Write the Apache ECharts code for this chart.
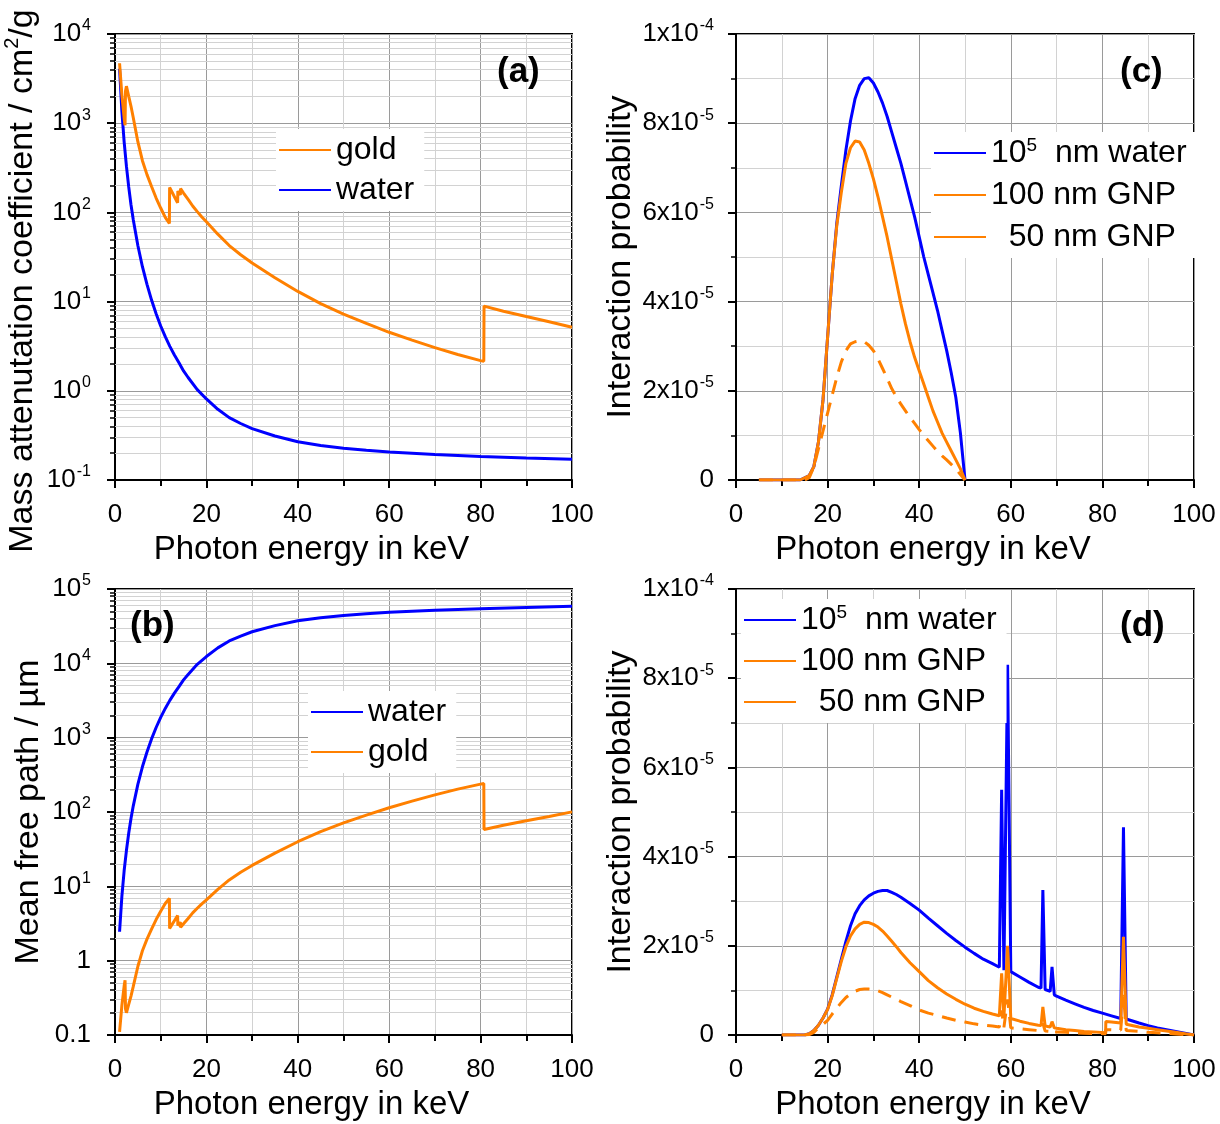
<!DOCTYPE html>
<html>
<head>
<meta charset="utf-8">
<script src="https://cdn.jsdelivr.net/npm/echarts@6/dist/echarts.min.js"></script>
<style>
html,body{margin:0;padding:0;background:#fff;}
#chart{width:1220px;height:1124px;}
</style>
</head>
<body>
<div id="chart"></div>
<script>
// ---------------- DATA ----------------
// Panel (a) & (b): photon energy in keV
const energyWater = [1, 1.5, 2, 2.5, 3, 3.5, 4, 5, 6, 7, 8, 9, 10, 11, 12, 13, 14, 15, 16, 18, 20, 22.5, 25, 27.5, 30, 35, 40, 45, 50, 55, 60, 70, 80, 90, 100];
const muWater = [4078, 1376, 617, 330, 193, 122, 82.8, 42.6, 24.6, 15.6, 10.4, 7.3, 5.33, 4.04, 3.15, 2.52, 2.06, 1.67, 1.41, 1.03, 0.81, 0.62, 0.50, 0.43, 0.376, 0.311, 0.268, 0.243, 0.227, 0.215, 0.206, 0.193, 0.184, 0.177, 0.171];
const mfpWater = [2.45, 7.27, 16.2, 30.3, 51.8, 82, 121, 235, 406, 641, 962, 1370, 1876, 2475, 3175, 3968, 4854, 5988, 7092, 9709, 12346, 16129, 20000, 23256, 26596, 32154, 37313, 41152, 44053, 46512, 48544, 51813, 54348, 56497, 58480];

const energyGold = [1, 1.5, 2, 2.2, 2.3, 2.5, 3, 3.5, 4, 5, 6, 7, 8, 9, 10, 11, 11.9, 11.95, 12.5, 13, 13.7, 13.75, 14.3, 14.35, 15, 16, 17, 18, 19, 20, 22.5, 25, 27.5, 30, 35, 40, 45, 50, 55, 60, 65, 70, 75, 80, 80.7, 80.75, 85, 90, 95, 100];
const muGold = [4700, 2089, 1137, 950, 2300, 2600, 2000, 1550, 1150, 620, 380, 265, 195, 145, 112, 88, 75, 190, 168, 150, 128, 174, 157, 185, 165, 140, 118, 102, 89, 78.6, 57, 42.5, 33.5, 27.1, 18.5, 13.0, 9.5, 7.25, 5.7, 4.53, 3.7, 3.05, 2.55, 2.18, 2.14, 8.9, 7.8, 6.8, 5.95, 5.16];
const mfpGold = [0.110, 0.248, 0.455, 0.545, 0.225, 0.199, 0.259, 0.334, 0.450, 0.835, 1.36, 1.95, 2.65, 3.57, 4.62, 5.88, 6.90, 2.72, 3.08, 3.45, 4.04, 2.97, 3.30, 2.80, 3.14, 3.70, 4.39, 5.07, 5.82, 6.59, 9.08, 12.2, 15.5, 19.1, 28.0, 39.8, 54.5, 71.4, 90.8, 114, 140, 170, 203, 237, 242, 58.2, 66.4, 76.1, 87.0, 100.3];

// Panel (c): interaction probability in units of 1e-5
const energyC = [5, 10, 14, 15, 16, 17, 18, 19, 20, 21, 22, 23, 24, 25, 26, 27, 28, 29, 30, 31, 32, 33, 34, 35, 36, 37, 38, 39, 40, 41, 42, 43, 44, 45, 46, 47, 48, 49, 50];
const waterC = [0, 0, 0, 0.05, 0.1, 0.3, 0.85, 1.8, 3.2, 4.6, 5.75, 6.6, 7.4, 8.05, 8.55, 8.85, 9.0, 9.02, 8.9, 8.7, 8.45, 8.15, 7.8, 7.45, 7.1, 6.7, 6.3, 5.9, 5.45, 5.0, 4.6, 4.2, 3.8, 3.35, 2.9, 2.4, 1.85, 1.05, 0];
const gnp100C = [0, 0, 0, 0.05, 0.1, 0.3, 0.85, 1.8, 3.2, 4.6, 5.7, 6.45, 7.1, 7.45, 7.6, 7.58, 7.4, 7.1, 6.75, 6.35, 5.9, 5.45, 4.95, 4.45, 3.95, 3.5, 3.1, 2.75, 2.45, 2.15, 1.85, 1.55, 1.3, 1.05, 0.85, 0.65, 0.45, 0.25, 0];
const gnp50C = [0, 0, 0, 0, 0.05, 0.3, 0.7, 1.1, 1.5, 1.9, 2.3, 2.65, 2.9, 3.05, 3.1, 3.12, 3.1, 3.02, 2.9, 2.72, 2.5, 2.28, 2.05, 1.87, 1.7, 1.55, 1.4, 1.27, 1.13, 1.0, 0.88, 0.76, 0.64, 0.54, 0.45, 0.35, 0.25, 0.12, 0];

// Panel (d): interaction probability in units of 1e-5
const energyWaterD = [10, 14, 15, 16, 17, 18, 19, 20, 21, 22, 23, 24, 25, 26, 27, 28, 29, 30, 31, 32, 33, 34, 35, 36, 38, 40, 42, 44, 46, 48, 50, 52, 54, 56, 57.5, 58.0, 58.5, 59.3, 60.0, 62, 64, 66, 66.6, 67.0, 67.5, 68.6, 69.0, 69.5, 70, 72, 74, 76, 78, 80, 82, 84, 84.6, 85.2, 88, 90, 92, 94, 96, 98, 100];
const waterD = [0, 0, 0, 0.03, 0.1, 0.22, 0.38, 0.58, 0.9, 1.3, 1.7, 2.1, 2.45, 2.72, 2.9, 3.03, 3.12, 3.18, 3.22, 3.24, 3.24, 3.2, 3.15, 3.09, 2.95, 2.8, 2.62, 2.45, 2.28, 2.12, 1.97, 1.83, 1.7, 1.6, 1.52, 5.5, 1.45, 8.3, 1.42, 1.3, 1.18, 1.07, 1.05, 3.25, 1.02, 0.98, 1.53, 0.9, 0.87, 0.78, 0.7, 0.62, 0.55, 0.49, 0.43, 0.37, 4.66, 0.36, 0.27, 0.21, 0.16, 0.12, 0.08, 0.04, 0];
const energyGnpD = [10, 14, 15, 16, 17, 18, 19, 20, 21, 22, 23, 24, 25, 26, 27, 28, 29, 30, 31, 32, 33, 34, 35, 36, 38, 40, 42, 44, 46, 48, 50, 52, 54, 56, 57.5, 58.0, 58.5, 59.3, 60.0, 62, 64, 66, 66.6, 67.0, 67.5, 68.6, 69.0, 69.5, 70, 72, 74, 76, 78, 80.7, 80.75, 82, 84, 84.6, 85.2, 88, 90, 92, 94, 96, 98, 100];
const gnp100D = [0, 0, 0, 0.03, 0.1, 0.22, 0.38, 0.57, 0.88, 1.27, 1.65, 1.98, 2.22, 2.38, 2.48, 2.53, 2.52, 2.48, 2.42, 2.33, 2.22, 2.1, 1.98, 1.85, 1.62, 1.42, 1.22, 1.06, 0.92, 0.8, 0.69, 0.6, 0.53, 0.47, 0.43, 1.38, 0.4, 2.0, 0.37, 0.31, 0.26, 0.22, 0.21, 0.63, 0.2, 0.18, 0.3, 0.16, 0.15, 0.12, 0.1, 0.08, 0.07, 0.05, 0.3, 0.29, 0.27, 2.2, 0.24, 0.18, 0.15, 0.12, 0.09, 0.06, 0.03, 0];
const gnp50D = [0, 0, 0, 0.01, 0.06, 0.16, 0.24, 0.33, 0.47, 0.6, 0.73, 0.84, 0.92, 0.98, 1.02, 1.03, 1.03, 1.02, 0.99, 0.95, 0.9, 0.85, 0.8, 0.75, 0.66, 0.56, 0.49, 0.44, 0.38, 0.33, 0.29, 0.25, 0.22, 0.2, 0.18, 0.55, 0.17, 0.8, 0.16, 0.14, 0.12, 0.1, 0.1, 0.26, 0.09, 0.08, 0.13, 0.07, 0.07, 0.06, 0.05, 0.04, 0.035, 0.03, 0.12, 0.115, 0.11, 0.9, 0.1, 0.08, 0.06, 0.05, 0.04, 0.025, 0.01, 0];

// Tick labels
const yLabelsA = ['10^-1', '10^0', '10^1', '10^2', '10^3', '10^4'];
const yLabelsB = ['0.1', '1', '10^1', '10^2', '10^3', '10^4', '10^5'];
const yLabelsCD = ['0', '2x10^-5', '4x10^-5', '6x10^-5', '8x10^-5', '1x10^-4'];

// Names
const xTitle = 'Photon energy in keV';
const yTitleA = 'Mass attenutation coefficient / cm^2/g';
const yTitleB = 'Mean free path / µm';
const yTitleCD = 'Interaction probability';
const nameWaterCD = '10^5 nm water';
const name100 = '100 nm GNP';
const name50 = '50 nm GNP';

// ---------------- STYLE / HELPERS ----------------
const FONT = '"Liberation Sans", Arial, Helvetica, sans-serif';
const BLUE = '#0000ff';
const ORANGE = '#ff8000';
const MAJOR_GRID = '#9a9a9a';
const MINOR_GRID = '#d2d2d2';

function pairs(xs, ys) { return xs.map((x, i) => [x, ys[i]]); }
function toRich(s) {
  const m = s.match(/^(.*)\^(-?\d+)(.*)$/);
  if (!m) return '{b|' + s + '}';
  return '{b|' + m[1] + '}{s|' + m[2] + '}' + (m[3] ? '{b|' + m[3] + '}' : '');
}
const labelRich = {
  b: { fontSize: 26, fontFamily: FONT, color: '#000', lineHeight: 32 },
  s: { fontSize: 16, fontFamily: FONT, color: '#000', lineHeight: 16, verticalAlign: 'top', padding: [0, 0, 0, 1] }
};
function minorLogValues(e0, e1) {
  const out = [];
  for (let e = e0; e < e1; e++) for (let k = 2; k <= 9; k++) out.push(+(k * Math.pow(10, e)).toPrecision(3));
  return out;
}
const minorA = minorLogValues(-1, 4);
const minorB = minorLogValues(-1, 5);

function xAxisCfg(gi) {
  return {
    type: 'value', gridIndex: gi, min: 0, max: 100, interval: 20,
    name: xTitle, nameLocation: 'middle', nameGap: 53,
    nameTextStyle: { fontSize: 33, fontFamily: FONT, color: '#000', padding: [0, 64, 0, 0] },
    axisLine: { show: true, onZero: false, lineStyle: { color: '#000', width: 2 } },
    axisTick: { show: true, length: 8, lineStyle: { color: '#000', width: 2 } },
    minorTick: { show: true, splitNumber: 2, length: 6, lineStyle: { color: '#000', width: 2 } },
    axisLabel: { fontSize: 26, fontFamily: FONT, color: '#000', margin: 22 },
    splitLine: { show: true, lineStyle: { color: MAJOR_GRID, width: 1 } },
    minorSplitLine: { show: true, lineStyle: { color: MINOR_GRID, width: 1 } }
  };
}
function logAxisMain(gi, min, max, split, labels, name, gap, namePad) {
  const e0 = Math.round(Math.log10(min));
  return {
    type: 'log', logBase: 10, gridIndex: gi, min: min, max: max, splitNumber: split, position: 'left',
    name: name, nameLocation: 'middle', nameGap: gap,
    nameTextStyle: { fontSize: 34, fontFamily: FONT, color: '#000', lineHeight: 40, padding: namePad,
      rich: { s: { fontSize: 20, fontFamily: FONT, color: '#000', lineHeight: 20, verticalAlign: 'top' } } },
    axisLine: { show: true, lineStyle: { color: '#000', width: 2 } },
    axisTick: { show: true, length: 8, lineStyle: { color: '#000', width: 2 } },
    axisLabel: { margin: 24, formatter: v => toRich(labels[Math.round(Math.log10(v)) - e0] || ''), rich: labelRich },
    splitLine: { show: true, lineStyle: { color: MAJOR_GRID, width: 1 } }
  };
}
function logAxisMinor(gi, min, max, split, vals) {
  return {
    type: 'log', logBase: 10, gridIndex: gi, min: min, max: max, splitNumber: split, position: 'left', offset: 0,
    axisLine: { show: false },
    axisLabel: { show: false },
    splitLine: { show: false },
    axisTick: { show: true, length: 5, customValues: vals, lineStyle: { color: '#000', width: 1.5 } }
  };
}
function linAxis(gi) {
  return {
    type: 'value', gridIndex: gi, min: 0, max: 10, interval: 2, position: 'left',
    name: yTitleCD, nameLocation: 'middle', nameGap: 98,
    nameTextStyle: { fontSize: 34, fontFamily: FONT, color: '#000' },
    axisLine: { show: true, onZero: false, lineStyle: { color: '#000', width: 2 } },
    axisTick: { show: true, length: 8, lineStyle: { color: '#000', width: 2 } },
    minorTick: { show: true, splitNumber: 2, length: 5, lineStyle: { color: '#000', width: 1.5 } },
    axisLabel: { margin: 22, formatter: v => toRich(yLabelsCD[Math.round(v / 2)] || ''), rich: labelRich },
    splitLine: { show: true, lineStyle: { color: MAJOR_GRID, width: 1 } },
    minorSplitLine: { show: true, lineStyle: { color: MINOR_GRID, width: 1 } }
  };
}
function lineSeries(name, xi, yi, data, color, dashed, extra) {
  const s = {
    type: 'line', name: name, xAxisIndex: xi, yAxisIndex: yi, data: data,
    symbol: 'none', showSymbol: false, z: 3, clip: true,
    lineStyle: { color: color, width: 3, type: dashed ? [14, 9] : 'solid' },
    itemStyle: { color: color },
    emphasis: { disabled: true }
  };
  return Object.assign(s, extra || {});
}
function minorMarkLine(vals) {
  return {
    markLine: {
      silent: true, z: 1, symbol: ['none', 'none'], animation: false,
      label: { show: false },
      lineStyle: { color: MINOR_GRID, width: 1, type: 'solid' },
      emphasis: { disabled: true },
      data: vals.map(v => ({ yAxis: v }))
    }
  };
}
function legendCfg(names, left, top, gap) {
  return {
    data: names, orient: 'vertical', left: left, top: top, itemWidth: 52, itemHeight: 14, itemGap: gap,
    padding: [4, 10, 4, 2], backgroundColor: '#fff', selectedMode: false,
    itemStyle: { opacity: 0 },
    textStyle: { fontSize: 32, fontFamily: FONT, color: '#000', lineHeight: 34,
      rich: { s: { fontSize: 19, fontFamily: FONT, color: '#000', lineHeight: 18, verticalAlign: 'top' } } },
    formatter: function (n) {
      if (n === nameWaterCD) return '10{s|5}  nm water';
      if (n === name50) return '  ' + n;
      return n;
    }
  };
}
const panelTitle = (t, left, top) => ({ text: t, left: left, top: top, padding: 0,
  textStyle: { fontSize: 35, fontWeight: 'bold', fontFamily: FONT, color: '#000' } });

const gridBase = { show: true, borderColor: '#000', borderWidth: 2, backgroundColor: 'transparent',
  containLabel: false, outerBoundsMode: 'none' };

const option = {
  animation: false,
  backgroundColor: '#fff',
  title: [
    panelTitle('(a)', 497, 55),
    panelTitle('(b)', 130, 609),
    panelTitle('(c)', 1120, 55),
    panelTitle('(d)', 1120, 609)
  ],
  grid: [
    Object.assign({ left: 115, right: 648, top: 34, bottom: 644 }, gridBase),
    Object.assign({ left: 115, right: 648, top: 589, bottom: 89 }, gridBase),
    Object.assign({ left: 736, right: 26, top: 34, bottom: 644 }, gridBase),
    Object.assign({ left: 736, right: 26, top: 589, bottom: 89 }, gridBase)
  ],
  xAxis: [xAxisCfg(0), xAxisCfg(1), xAxisCfg(2), xAxisCfg(3)],
  yAxis: [
    logAxisMain(0, 0.1, 10000, 5, yLabelsA, yTitleA.replace('^2', '{s|2}'), 62, [0, 48, 0, 0]),
    logAxisMinor(0, 0.1, 10000, 5, minorA),
    logAxisMain(1, 0.1, 100000, 6, yLabelsB, yTitleB, 62, [0, 0, 0, 0]),
    logAxisMinor(1, 0.1, 100000, 6, minorB),
    linAxis(2),
    linAxis(3)
  ],
  legend: [
    legendCfg(['gold', 'water'], 276, 129, 6),
    legendCfg(['water', 'gold'], 308, 691, 6),
    legendCfg([nameWaterCD, name100, { name: name50, lineStyle: { type: 'solid' } }], 931, 132, 8),
    legendCfg([nameWaterCD, name100, { name: name50, lineStyle: { type: 'solid' } }], 741, 599, 7)
  ],
  series: [
    // (a)
    lineSeries('water', 0, 0, pairs(energyWater, muWater), BLUE, false, minorMarkLine(minorA)),
    lineSeries('gold', 0, 0, pairs(energyGold, muGold), ORANGE, false),
    // (b)
    lineSeries('water', 1, 2, pairs(energyWater, mfpWater), BLUE, false, minorMarkLine(minorB)),
    lineSeries('gold', 1, 2, pairs(energyGold, mfpGold), ORANGE, false),
    // (c)
    lineSeries(nameWaterCD, 2, 4, pairs(energyC, waterC), BLUE, false),
    lineSeries(name100, 2, 4, pairs(energyC, gnp100C), ORANGE, false),
    lineSeries(name50, 2, 4, pairs(energyC, gnp50C), ORANGE, true),
    // (d)
    lineSeries(nameWaterCD, 3, 5, pairs(energyWaterD, waterD), BLUE, false),
    lineSeries(name100, 3, 5, pairs(energyGnpD, gnp100D), ORANGE, false),
    lineSeries(name50, 3, 5, pairs(energyGnpD, gnp50D), ORANGE, true)
  ]
};

const chart = echarts.init(document.getElementById('chart'), null, { renderer: 'canvas' });
chart.setOption(option);
</script>
</body>
</html>
